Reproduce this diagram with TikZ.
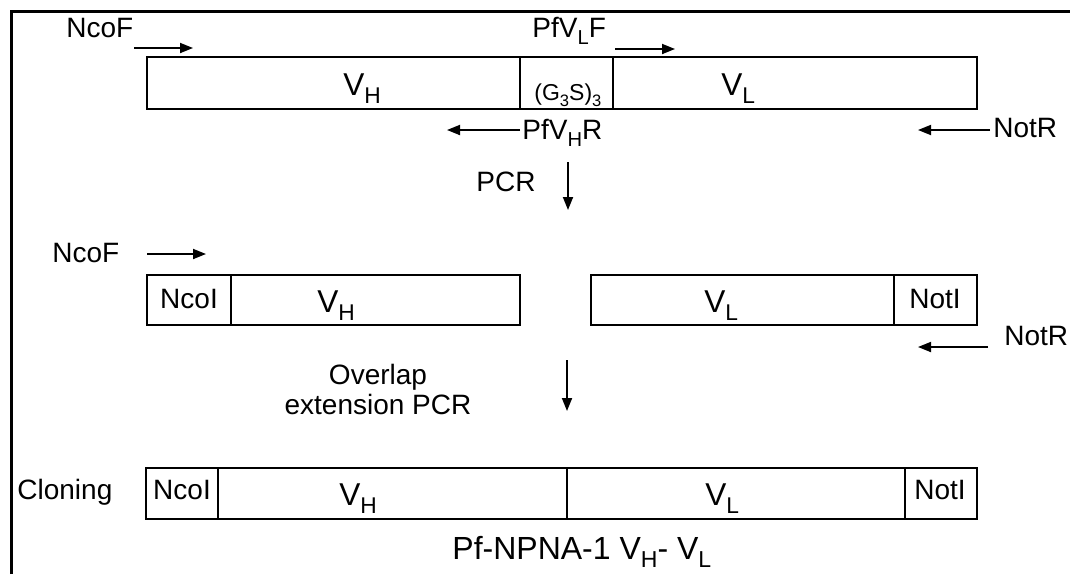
\documentclass[tikz,border=0pt]{standalone}
\usepackage{fontspec}
\setmainfont{Liberation Sans}
\usetikzlibrary{arrows.meta}

\newcommand{\lowsub}[1]{\raisebox{-0.28em}{\scalebox{0.72}{#1}}}

\begin{document}
\begin{tikzpicture}[x=0.5pt,y=-0.5pt,>={Triangle[length=6.5pt,width=5pt]},line cap=butt,
  lbl/.style={anchor=base west,inner sep=0pt,font=\fontsize{14}{15}\selectfont},
  vlbl/.style={anchor=base west,inner sep=0pt,font=\fontsize{15.8}{18}\selectfont},
  seg/.style={line width=0.9pt},
  primer/.style={->,line width=0.9pt}]
\useasboundingbox (0,0) rectangle (1070,574);
\draw[line width=1.5pt] (11,574) -- (11,11) -- (1070,11);
% scFv template
\draw[seg] (147,57) rectangle (520,109);
\draw[seg] (520,57) rectangle (613,109);
\draw[seg] (613,57) rectangle (977,109);
\node[vlbl] (vh1) at (343,95) {V\lowsub{H}};
\node[anchor=base west,inner sep=0pt,font=\fontsize{11.5}{13}\selectfont] (lnk) at (534,100) {(G\lowsub{3}S)\lowsub{3}};
\node[vlbl] (vl1) at (721,95) {V\lowsub{L}};
\node[lbl] (ncof1) at (66,37) {NcoF};
\draw[primer] (134,48) -- (193,48);
\node[lbl] (pfvlf) at (532,37) {PfV\lowsub{L}F};
\draw[primer] (615,49) -- (675,49);
\node[lbl] (pfvhr) at (522,139) {PfV\lowsub{H}R};
\draw[primer] (520,130) -- (447,130);
\node[lbl] (notr1) at (993,137) {NotR};
\draw[primer] (990,130) -- (918,130);
\node[lbl] (pcr) at (476,191) {PCR};
\draw[primer] (568,162) -- (568,210);
% separate fragments
\node[lbl] (ncof2) at (52,262) {NcoF};
\draw[primer] (147,254) -- (206,254);
\draw[seg] (147,275) rectangle (231,325);
\draw[seg] (231,275) rectangle (520,325);
\draw[seg] (591,275) rectangle (894,325);
\draw[seg] (894,275) rectangle (977,325);
\node[lbl,anchor=base] (nco2) at (189,308) {NcoI};
\node[vlbl] (vh2) at (317,312) {V\lowsub{H}};
\node[vlbl] (vl2) at (704,312) {V\lowsub{L}};
\node[lbl,anchor=base] (not2) at (935,308) {NotI};
\node[lbl] (notr2) at (1004,345) {NotR};
\draw[primer] (988,347) -- (918,347);
\node[lbl,anchor=center,align=center] (olap) at (378,389) {Overlap\\extension PCR};
\draw[primer] (567,360) -- (567,411);
% assembled construct
\node[lbl] (clon) at (17,499) {Cloning};
\draw[seg] (146,468) rectangle (218,519);
\draw[seg] (218,468) rectangle (567,519);
\draw[seg] (567,468) rectangle (905,519);
\draw[seg] (905,468) rectangle (977,519);
\node[lbl,anchor=base] (nco3) at (182,499) {NcoI};
\node[vlbl] (vh3) at (339,505) {V\lowsub{H}};
\node[vlbl] (vl3) at (705,505) {V\lowsub{L}};
\node[lbl,anchor=base] (not3) at (940,499) {NotI};
\node[lbl,font=\fontsize{16}{18}\selectfont] (title) at (452,559) {Pf-NPNA-1 V\lowsub{H}- V\lowsub{L}};
\end{tikzpicture}
\end{document}
